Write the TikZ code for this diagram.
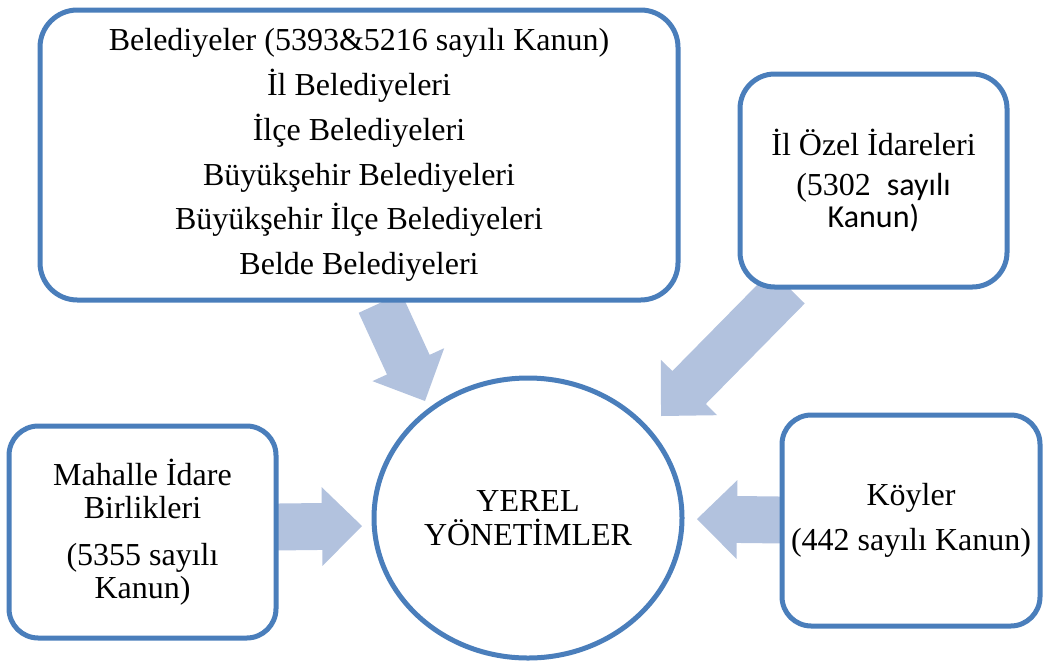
\documentclass[tikz,border=0pt]{standalone}
\usepackage{fontspec}
\setmainfont{Liberation Serif}
\newfontfamily\carlito{Carlito}
\usetikzlibrary{calc,shapes.geometric}
\definecolor{bordblue}{RGB}{74,126,187}
\definecolor{arrowblue}{RGB}{178,194,222}
\tikzset{
  boxstyle/.style={draw=bordblue, line width=3.75pt, fill=white, rectangle, inner sep=0pt, align=center},
  arrowfill/.style={fill=arrowblue},
}
\newcommand\blockarrow[2]{%
  \path coordinate (hb) at ($(#2)!30pt!(#1)$);
  \fill[arrowfill] ($(#1)!17.6pt!90:(#2)$) -- ($(hb)!17.6pt!90:(#2)$) -- ($(hb)!29.6pt!90:(#2)$)
    -- (#2) -- ($(hb)!29.6pt!-90:(#2)$) -- ($(hb)!17.6pt!-90:(#2)$) -- ($(#1)!17.6pt!-90:(#2)$) -- cycle;
}
\begin{document}
\begin{tikzpicture}[x=0.75pt,y=-0.75pt]
\useasboundingbox (0,0) rectangle (1044,661);
% arrow end points
\coordinate (s1) at (380,303);
\coordinate (t1) at (425,401);
\coordinate (s2) at (788,287);
\coordinate (t2) at (661,416);
\coordinate (s3) at (276,527);
\coordinate (t3) at (362,526);
\coordinate (s4) at (782,520);
\coordinate (t4) at (697,519);
\blockarrow{s1}{t1}
\blockarrow{s2}{t2}
\blockarrow{s3}{t3}
\blockarrow{s4}{t4}
% boxes
\node[boxstyle, rounded corners=28pt, minimum width=478.5pt, minimum height=217.5pt,
      font=\fontsize{24}{33.6}\selectfont] (A) at (359,155)
  {Belediyeler (5393\&5216 sayılı Kanun)\\İl Belediyeleri\\İlçe Belediyeleri\\Büyükşehir Belediyeleri\\Büyükşehir İlçe Belediyeleri\\Belde Belediyeleri};
\node[boxstyle, rounded corners=26pt, minimum width=200.25pt, minimum height=159.75pt,
      font=\fontsize{24}{24}\selectfont] (B) at (873.5,180.5)
  {İl Özel İdareleri\\[6pt](5302\ \ {\carlito sayılı}\\{\carlito Kanun)}};
\node[boxstyle, rounded corners=22pt, minimum width=200.25pt, minimum height=159pt,
      font=\fontsize{24}{24.75}\selectfont] (C) at (142.5,532)
  {Mahalle İdare\\Birlikleri\\[10.5pt](5355 sayılı\\Kanun)};
\node[boxstyle, rounded corners=22pt, minimum width=193.5pt, minimum height=158.25pt,
      font=\fontsize{24}{33.75}\selectfont] (D) at (911,520.5)
  {Köyler\\(442 sayılı Kanun)};
\node[draw=bordblue, line width=3.75pt, fill=white, ellipse, inner sep=0pt, align=center,
      minimum width=231pt, minimum height=210pt,
      font=\fontsize{24}{25.5}\selectfont] (E) at (528,518)
  {YEREL\\YÖNETİMLER};
\end{tikzpicture}
\end{document}
